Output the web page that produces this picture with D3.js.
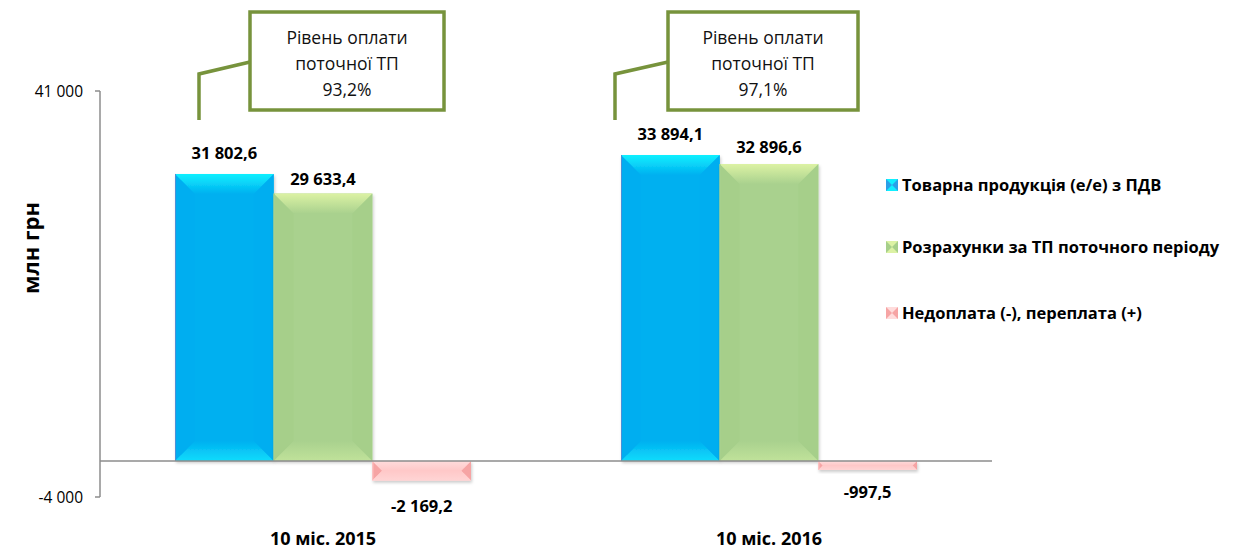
<!DOCTYPE html>
<html>
<head>
<meta charset="utf-8">
<script src="https://cdn.jsdelivr.net/npm/d3@7"></script>
<style>
  body { margin: 0; background: #fff; }
  svg text { font-family: "Open Sans", sans-serif; }
</style>
</head>
<body>
<div id="canvas"></div>
<script>
// chart data
var categories = ["10 міс. 2015", "10 міс. 2016"];
var seriesNames = ["Товарна продукція (е/е) з ПДВ", "Розрахунки за ТП поточного періоду", "Недоплата (-), переплата (+)"];
var seriesValues = [
  [31802.6, 33894.1],
  [29633.4, 32896.6],
  [-2169.2, -997.5]
];
var valueLabels = [
  ["31 802,6", "33 894,1"],
  ["29 633,4", "32 896,6"],
  ["-2 169,2", "-997,5"]
];
var payLevels = ["93,2%", "97,1%"];
var yTicks = [41000, -4000];
var yTickLabels = ["41 000", "-4 000"];

// colours per series
var palette = [
  { main: "#00b0f0", top: "#10f0ff", side: "#04aef0", bottom: "#10dcfc", edge: "#4a90d8" },
  { main: "#a9d18e", top: "#dcf2a4", side: "#a6cf8a", bottom: "#c0e29a", edge: "#a9d18e" },
  { main: "#ffc8c8", top: "#ffdcdc", side: "#f6a4a4", bottom: "#ffd4d4", edge: "#ffc8c8" }
];

var W = 1244, H = 549;

var svg = d3.select("#canvas").append("svg")
  .attr("width", W).attr("height", H);

var y = d3.scaleLinear().domain([-4000, 41000]).range([497, 91]);
var x0 = d3.scaleBand().domain(categories).range([100, 992]);
var x1 = d3.scaleBand().domain(d3.range(seriesNames.length)).range([75, 371]);

var defs = svg.append("defs");
var f = defs.append("filter").attr("id", "shadow").attr("x", "-10%").attr("y", "-10%").attr("width", "130%").attr("height", "150%");
f.append("feDropShadow").attr("dx", 1).attr("dy", 2).attr("stdDeviation", 1.5).attr("flood-color", "#000").attr("flood-opacity", 0.2);

palette.forEach(function(c, i) {
  var gt = defs.append("linearGradient").attr("id", "gt" + i).attr("x1", 0).attr("y1", 0).attr("x2", 0).attr("y2", 1);
  gt.append("stop").attr("offset", 0).attr("stop-color", c.top);
  gt.append("stop").attr("offset", 1).attr("stop-color", c.main);
  var gb = defs.append("linearGradient").attr("id", "gb" + i).attr("x1", 0).attr("y1", 1).attr("x2", 0).attr("y2", 0);
  gb.append("stop").attr("offset", 0).attr("stop-color", c.bottom);
  gb.append("stop").attr("offset", 1).attr("stop-color", c.main);
});

// bevelled bar
function bevelBar(g, bx, by, bw, bh, s, depth) {
  var col = palette[s];
  var b = Math.min(depth, bh / 2, bw / 2);
  var x2 = bx + bw, y2 = by + bh;
  g.append("rect").attr("x", bx).attr("y", by).attr("width", bw).attr("height", bh).attr("fill", col.main);
  g.append("polygon").attr("fill", col.side)
    .attr("points", [[bx, by], [bx + b, by + b], [bx + b, y2 - b], [bx, y2]].join(" "));
  g.append("polygon").attr("fill", col.side)
    .attr("points", [[x2, by], [x2 - b, by + b], [x2 - b, y2 - b], [x2, y2]].join(" "));
  g.append("polygon").attr("fill", "url(#gt" + s + ")")
    .attr("points", [[bx, by], [x2, by], [x2 - b, by + b], [bx + b, by + b]].join(" "));
  g.append("polygon").attr("fill", "url(#gb" + s + ")")
    .attr("points", [[bx, y2], [x2, y2], [x2 - b, y2 - b], [bx + b, y2 - b]].join(" "));
  g.append("line").attr("x1", bx + 0.5).attr("x2", bx + 0.5).attr("y1", by).attr("y2", y2)
    .attr("stroke", col.edge).attr("stroke-width", 1);
}

// bars
var barsG = svg.append("g");
seriesValues.forEach(function(vals, s) {
  vals.forEach(function(v, c) {
    var bx = x0(categories[c]) + x1(s);
    var bw = x1.bandwidth();
    var top = y(Math.max(0, v)), bot = y(Math.min(0, v));
    var g = barsG.append("g").attr("filter", "url(#shadow)");
    bevelBar(g, bx, top, bw, bot - top, s, 20);
  });
});

// axes lines
svg.append("line").attr("x1", 100).attr("x2", 992).attr("y1", y(0)).attr("y2", y(0))
  .attr("stroke", "#8c8c8c").attr("stroke-width", 1.5);
svg.append("line").attr("x1", 100).attr("x2", 100).attr("y1", y(41000)).attr("y2", y(-4000))
  .attr("stroke", "#8c8c8c").attr("stroke-width", 1.5);
yTicks.forEach(function(t, i) {
  svg.append("line").attr("x1", 95).attr("x2", 100).attr("y1", y(t)).attr("y2", y(t))
    .attr("stroke", "#8c8c8c").attr("stroke-width", 1.5);
  svg.append("text").attr("x", 83).attr("y", y(t) + 5.5).attr("text-anchor", "end")
    .attr("font-size", 15.5).attr("fill", "#000").text(yTickLabels[i]);
});

// y title
svg.append("text").attr("transform", "translate(39,248) rotate(-90)")
  .attr("text-anchor", "middle").attr("font-size", 22).attr("font-weight", "bold")
  .text("млн грн");

// category labels
categories.forEach(function(c) {
  svg.append("text").attr("x", x0(c) + x0.bandwidth() / 2).attr("y", 545)
    .attr("text-anchor", "middle").attr("font-size", 18).attr("font-weight", "bold").text(c);
});

// value labels
var labelOffsets = [[-15, -15], [-9, -11], [32, 28]];
seriesValues.forEach(function(vals, s) {
  vals.forEach(function(v, c) {
    var cx = x0(categories[c]) + x1(s) + x1.bandwidth() / 2;
    svg.append("text").attr("x", cx).attr("y", y(v) + labelOffsets[s][c]).attr("text-anchor", "middle")
      .attr("font-size", 16.5).attr("font-weight", "bold").text(valueLabels[s][c]);
  });
});

// callouts
var callouts = [
  { box: [250, 12, 194, 98], line: [[250, 62], [199, 74], [199, 120]] },
  { box: [668, 12, 190, 98], line: [[668, 62], [615, 74], [615, 120]] }
];
callouts.forEach(function(co, i) {
  svg.append("polyline").attr("points", co.line.join(" ")).attr("fill", "none")
    .attr("stroke", "#77933c").attr("stroke-width", 3.5);
  svg.append("rect").attr("x", co.box[0]).attr("y", co.box[1]).attr("width", co.box[2]).attr("height", co.box[3])
    .attr("fill", "#fff").attr("stroke", "#77933c").attr("stroke-width", 3.5);
  var cx = co.box[0] + co.box[2] / 2;
  ["Рівень оплати", "поточної ТП", payLevels[i]].forEach(function(t, k) {
    svg.append("text").attr("x", cx).attr("y", 44 + k * 26).attr("text-anchor", "middle")
      .attr("font-size", 17.5).attr("fill", "#111").text(t);
  });
});

// legend
var legendY = [185, 247, 313];
seriesNames.forEach(function(n, s) {
  var g = svg.append("g");
  var ly = legendY[s];
  var col = palette[s];
  var lx = 886, sz = 12;
  g.append("rect").attr("x", lx).attr("y", ly - sz / 2).attr("width", sz).attr("height", sz).attr("fill", col.top);
  var sc = s === 0 ? "#2aa0e8" : col.side;
  g.append("polygon").attr("fill", sc)
    .attr("points", [[lx, ly - sz / 2], [lx + sz / 2, ly], [lx, ly + sz / 2]].join(" "));
  g.append("polygon").attr("fill", sc)
    .attr("points", [[lx + sz, ly - sz / 2], [lx + sz / 2, ly], [lx + sz, ly + sz / 2]].join(" "));
  g.append("text").attr("x", 902).attr("y", ly + 6).attr("font-size", 16.5).attr("font-weight", "bold").text(n);
});
</script>
</body>
</html>
